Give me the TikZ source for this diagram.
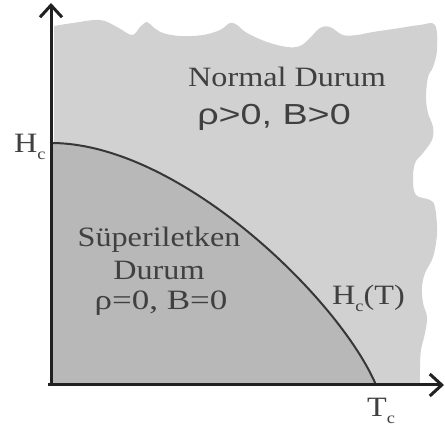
\documentclass[tikz,border=0pt]{standalone}
\usepackage{fontspec}
\setmainfont{Liberation Serif}
\newfontfamily\arialf{Liberation Sans}
\usetikzlibrary{arrows.meta}
\definecolor{lightg}{gray}{0.82}
\definecolor{darkg}{gray}{0.72}
\definecolor{txtc}{gray}{0.25}
\definecolor{axc}{gray}{0.13}
\newcommand{\subc}{\raisebox{-0.25em}{\fontsize{16}{16}\selectfont c}}
\begin{document}
\begin{tikzpicture}[x=1pt,y=-1pt,
  lbl/.style={inner sep=0pt, text=txtc, font=\fontsize{28}{30}\selectfont, xscale=1.15, anchor=base},
  axis/.style={line width=3pt, draw=axc, -{Straight Barb[length=12pt,width=22pt,line width=3pt]}},
  curve/.style={line width=2pt, draw=axc!90}]
\useasboundingbox (0,0) rectangle (445,427);
% named points
\coordinate (O) at (51,385);
\coordinate (Xs) at (48,385);
\coordinate (Xtip) at (444,385);
\coordinate (Ytip) at (51,3);
\coordinate (HcP) at (51,143);
\coordinate (TcP) at (376,385);
% normal region
\fill[lightg] (54,385) -- plot[smooth, tension=0.6] coordinates {
 (54,26) (73,23) (100,20) (117,27) (132,35) (140,27) (147,22) (153,27) (163,33)
 (180,36) (203,35) (220,30) (230,23) (237,25) (247,33) (267,42) (287,47) (300,46)
 (310,38) (320,28) (330,27) (343,35) (357,35) (373,32) (400,28) (420,25) (435,25)
 (437,50) (433,67) (428,77) (426,97) (428,113) (433,127) (432,140) (423,153)
 (415,163) (413,180) (416,195) (430,200) (435,207) (437,233) (433,257) (425,273)
 (422,287) (423,303) (427,317) (425,333) (421,350) (420,367) (420,385)} -- cycle;
% superconducting region
\fill[darkg] (HcP) .. controls (180,143) and (340,300) .. (TcP) -- (O) -- cycle;
\draw[curve] (HcP) .. controls (180,143) and (340,300) .. (TcP);
% axes
\draw[axis] (Xs) -- (Xtip);
\draw[axis] (O) -- (Ytip);
% labels
\node[lbl] (nd) at (287,87) {Normal Durum};
\node[lbl, font=\arialf\fontsize{29}{30}\selectfont, xscale=1.3/1.15] (nr) at (274,125) {ρ>0, B>0};
\node[lbl] (s1) at (159,247) {Süperiletken};
\node[lbl] (s2) at (159,280) {Durum};
\node[lbl, xscale=1.25/1.15] (s3) at (161,310) {ρ=0, B=0};
\node[lbl, anchor=base west] (hc) at (14,153) {H\subc};
\node[lbl, anchor=base west] (tc) at (367,417) {T\subc};
\node[lbl, anchor=base west] (hct) at (332,305) {H\subc(T)};
\end{tikzpicture}
\end{document}
